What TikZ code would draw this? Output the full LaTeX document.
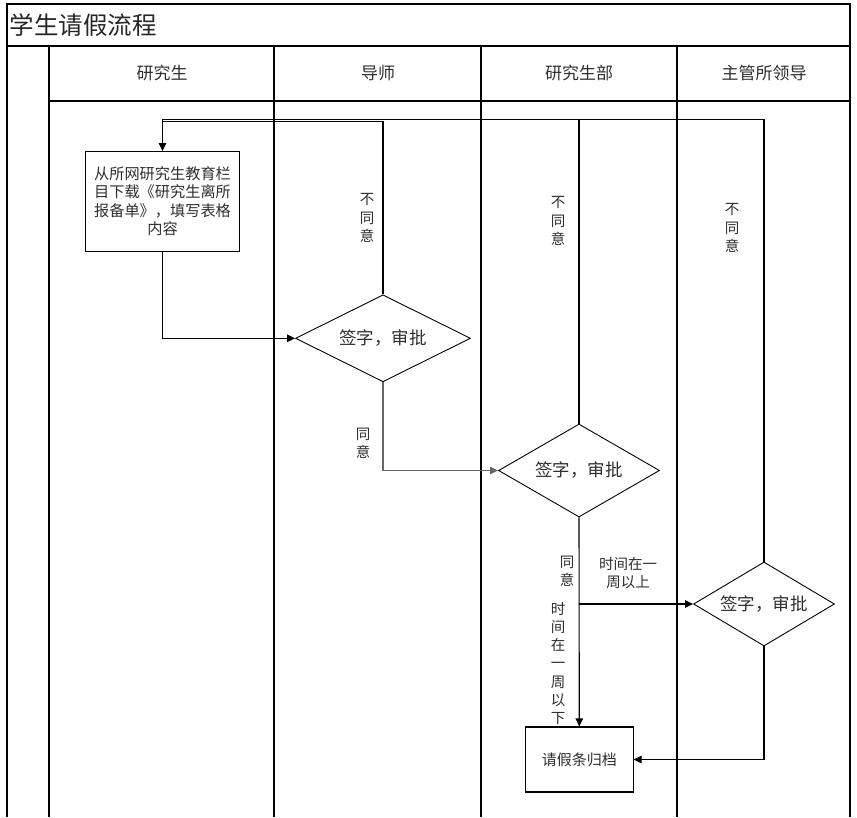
\documentclass[tikz,border=0pt]{standalone}
\usepackage{fontspec}
\setmainfont{Noto Sans CJK SC}
\usetikzlibrary{shapes.geometric,arrows.meta}
\tikzset{
  frameline/.style={line width=1.6pt,black},
  titleline/.style={line width=2.4pt,black},
  conn/.style={line width=1.1pt,black},
  grayconn/.style={line width=1.1pt,black!60},
  arr/.style={-{Triangle[length=8pt,width=7.5pt]}},
  procbox/.style={draw,line width=1.1pt,rectangle,inner sep=0pt,align=center,text=black!82},
  decision/.style={draw,line width=0.9pt,diamond,inner sep=0pt,text=black!82,font=\fontsize{17.5}{20}\selectfont},
  lbl/.style={align=center,inner sep=0pt,text=black!82,font=\fontsize{14.5}{18.4}\selectfont},
  head/.style={font=\fontsize{17}{20}\selectfont,inner sep=0pt,text=black!82},
}
\begin{document}
\begin{tikzpicture}[x=1pt,y=-1pt]
\useasboundingbox (0,0) rectangle (857,817);
% frame
\draw[frameline] (7,817) -- (7,4) -- (850,4) -- (850,817);
\draw[titleline] (7,46) -- (850,46);
\node[anchor=west,inner sep=0pt,text=black!85,font=\fontsize{24.5}{28}\selectfont] (title) at (9.5,25) {学生请假流程};
\foreach \xx in {49,274,481,677} { \draw[frameline] (\xx,46) -- (\xx,817); }
\draw[frameline] (49,101) -- (850,101);
\node[head] (h1) at (162,73) {研究生};
\node[head] (h2) at (378,73) {导师};
\node[head] (h3) at (579,73) {研究生部};
\node[head] (h4) at (764,73) {主管所领导};
% nodes
\node[procbox,minimum width=153.5pt,minimum height=99.5pt,font=\fontsize{15.2}{18.3}\selectfont] (box1) at (162.5,201.3)
  {从所网研究生教育栏\\目下载《研究生离所\\报备单》，填写表格\\内容};
\node[decision,minimum width=175pt,minimum height=87pt] (d1) at (383,338.3) {\makebox[0pt]{签字，审批}};
\node[decision,minimum width=161pt,minimum height=93pt] (d2) at (579,470.5) {\makebox[0pt]{签字，审批}};
\node[decision,minimum width=141pt,minimum height=84pt] (d3) at (764,604) {\makebox[0pt]{签字，审批}};
\node[procbox,minimum width=107.5pt,minimum height=65pt,font=\fontsize{15}{18}\selectfont] (box2) at (579.3,759.5) {请假条归档};
% connectors
\coordinate (ta) at (383,121.7);
\coordinate (tb) at (162.5,121.7);
\coordinate (u0) at (162.5,119.3);
\draw[conn,arr] (box1.south) |- (d1.west);
\draw[conn] (d1.north) -- (ta) -- (tb);
\draw[conn,arr] (d3.north) |- (u0) -- (box1.north);
\draw[conn] (d2.north) -- (d2.north |- u0);
\draw[grayconn,arr] (d1.south) |- (d2.west);
\draw[conn,arr] (d2.south) -- (box2.north);
\coordinate (br) at (579,604);
\draw[conn,arr] (br) -- (d3.west);
\draw[conn,arr] (d3.south) |- (box2.east);
% labels
\node[lbl] (l1) at (367,218) {不\\同\\意};
\node[lbl] (l2) at (558,221) {不\\同\\意};
\node[lbl] (l3) at (732,228) {不\\同\\意};
\node[lbl] (l4) at (363,443) {同\\意};
\node[lbl] (l5) at (567,571) {同\\意};
\node[lbl] (l6) at (628,573) {时间在一\\周以上};
\node[lbl,font=\fontsize{14.5}{18.2}\selectfont] (l7) at (558,663.5) {时\\间\\在\\一\\周\\以\\下};
\end{tikzpicture}
\end{document}
